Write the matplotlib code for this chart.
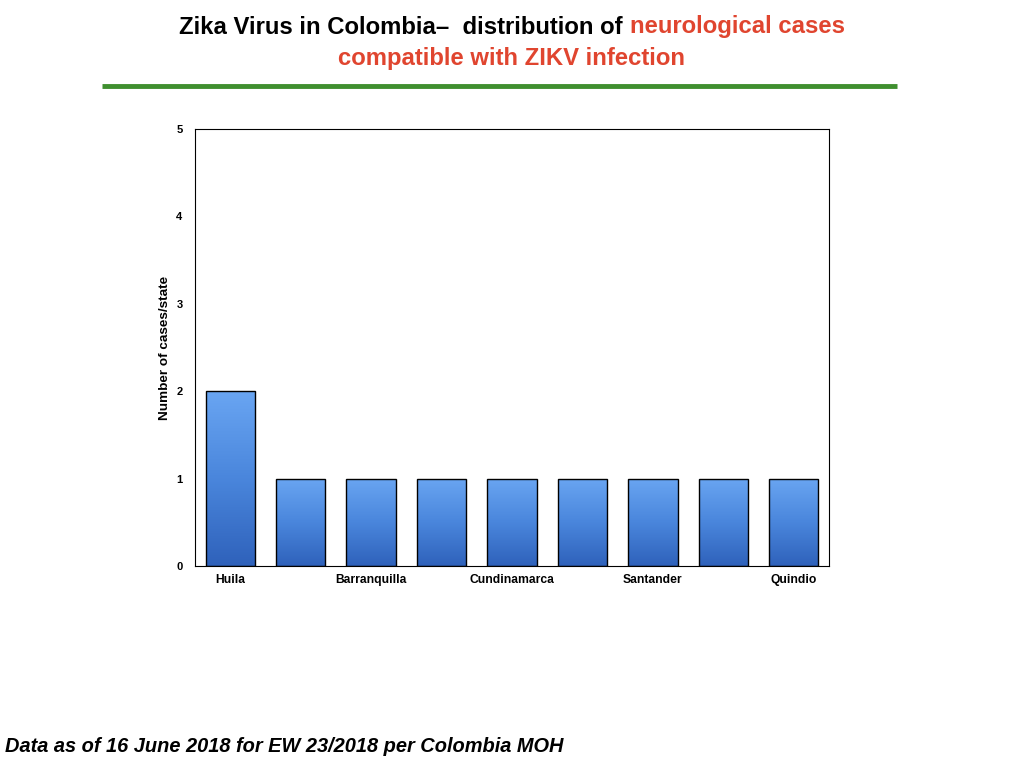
import numpy as np
import matplotlib
matplotlib.use("Agg")
import matplotlib.pyplot as plt
from matplotlib.colors import LinearSegmentedColormap

plt.rcParams['font.family'] = ['Liberation Sans', 'DejaVu Sans']

# Data
states = ["Huila", "", "Barranquilla", "", "Cundinamarca", "", "Santander", "", "Quindio"]
cases = [2, 1, 1, 1, 1, 1, 1, 1, 1]
yticks = [0, 1, 2, 3, 4, 5]

red = "#e0452f"
grad = LinearSegmentedColormap.from_list("barfill", ["#2f62bb", "#4a86dc", "#69a5f2"])

fig = plt.figure(figsize=(10.24, 7.68), dpi=100)
ax = fig.add_axes([195/1024, 1 - 566/768, 634/1024, 437/768])

x = np.arange(len(cases))
bars = ax.bar(x, cases, width=0.7, color="none", edgecolor="black", linewidth=1.0, zorder=3)

# gradient fill, clipped to each bar
for b in bars:
    bx, by = b.get_x(), b.get_y()
    w, h = b.get_width(), b.get_height()
    img = np.linspace(0, 1, 100).reshape(-1, 1)
    im = ax.imshow(img, cmap=grad, origin="lower", aspect="auto",
                   extent=[bx, bx + w, by, by + h], zorder=2)
    im.set_clip_path(b)

ax.set_xlim(-0.5, len(cases) - 0.5)
ax.set_ylim(0, 5)
ax.set_yticks(yticks)
ax.set_yticklabels([str(v) for v in yticks], fontsize=8, fontweight="bold")
ax.set_xticks(x)
ax.set_xticklabels(states, fontsize=8.7, fontweight="bold")
ax.tick_params(axis="x", length=0, pad=6)
ax.tick_params(axis="y", length=0, pad=9)
ax.set_ylabel("Number of cases/state", fontsize=9.7, fontweight="bold", labelpad=4)
for s in ax.spines.values():
    s.set_linewidth(0.8)

# Title, mixed colours
fs = 17.2
fig.canvas.draw()
r = fig.canvas.get_renderer()
parts = [("Zika Virus in Colombia\u2013  distribution of ", "black"), ("neurological cases", red)]
widths = []
for txt, c in parts:
    t = fig.text(0, 0, txt, fontsize=fs, fontweight="bold")
    widths.append(t.get_window_extent(r).width)
    t.remove()
xpos = (512 - sum(widths) / 2) / 1024
for (txt, c), w in zip(parts, widths):
    fig.text(xpos, 1 - 27/768, txt, fontsize=fs, fontweight="bold", color=c, va="center")
    xpos += w / 1024
fig.text(0.5, 1 - 59/768, "compatible with ZIKV infection", fontsize=fs, fontweight="bold",
         color=red, ha="center", va="center")

# green rule
fig.add_artist(plt.Line2D([102/1024, 897/1024], [1 - 86/768, 1 - 86/768], color="#3f8f2f",
                          linewidth=3.5, solid_capstyle="butt"))

fig.text(5/1024, 1 - 747/768, "Data as of 16 June 2018 for EW 23/2018 per Colombia MOH",
         fontsize=14.4, fontweight="bold", fontstyle="italic", va="center")

fig.savefig("out.png", dpi=100)
